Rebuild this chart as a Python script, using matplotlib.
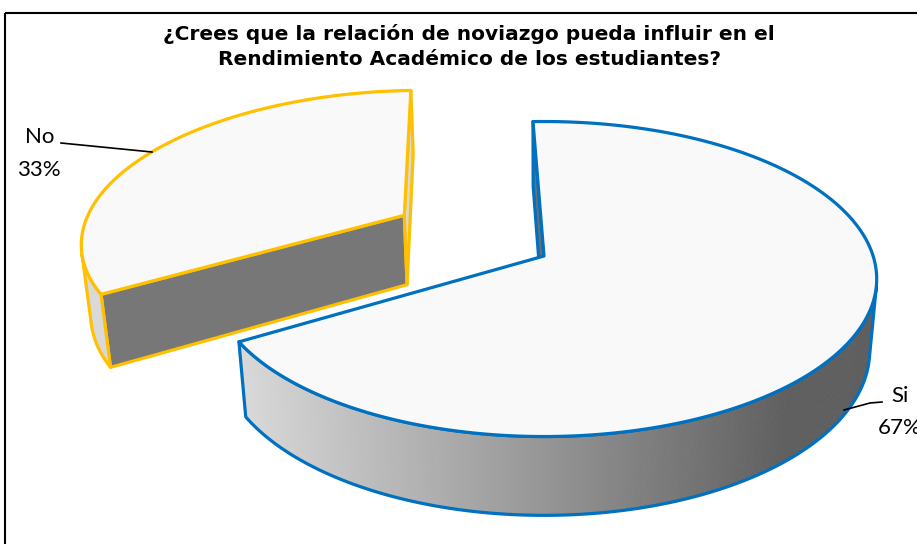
import numpy as np
import matplotlib
matplotlib.use('Agg')
import matplotlib.pyplot as plt
from matplotlib.patches import Polygon, Rectangle

# ---------------- data ----------------
categories = ['Si', 'No']
values = [67, 33]
percent_labels = ['67%', '33%']
title_text = '¿Crees que la relación de noviazgo pueda influir en el\nRendimiento Académico de los estudiantes?'
edge_colors = ['#0070C0', '#FFC000']
explode = [0.0, 0.52]

# ---------------- style / layout ----------------
W, H = 917, 544
TOP_COLOR = '#F9F9F9'
# (face at the slice's counter-clockwise edge, face at its clockwise edge)
CUT_COLORS = [('#6E6E6E', '#6E6E6E'), ('#777777', '#D9D9D9')]
WALL_LIGHT = np.array([0xD9, 0xD9, 0xD9]) / 255
WALL_DARK = np.array([0x5F, 0x5F, 0x5F]) / 255
GRAD_X0, GRAD_X1 = 240, 790
EXPLODE_DIR_SHIFT = -3.5  # degrees

elev = np.radians(30.0)
D = 6.05
F = 1950.0
h = 0.25
cx = 544.0
apex_y = 256.0
start_angle = 92.2
ce, se = np.cos(elev), np.sin(elev)
cy0 = apex_y + F * h * ce / (D - h * se)
cam_xy = np.array([0.0, -D * ce])


def proj(X, Y, Z):
    X = np.asarray(X, float); Y = np.asarray(Y, float); Z = np.asarray(Z, float)
    vy = Y + D * ce
    vz = Z - D * se
    depth = vy * ce - vz * se
    up = vy * se + vz * ce
    return cx + F * X / depth, cy0 - F * up / depth


fig = plt.figure(figsize=(W / 100, H / 100), dpi=100)
ax = fig.add_axes([0, 0, 1, 1])
ax.set_xlim(0, W)
ax.set_ylim(H, 0)
ax.axis('off')

# chart frame (cropped at right/bottom)
ax.add_patch(Rectangle((5, 13), 2000, 2000, fill=False, edgecolor='black', lw=1.5, zorder=1))

LW = 2.3
total = float(sum(values))
slices = []
a0 = start_angle
for i, v in enumerate(values):
    a1 = a0 - 360.0 * v / total
    slices.append((i, a1, a0))
    a0 = a1

# draw back slice (No) first, then Si
order = [1, 0]
for idx in order:
    i, a1, a0 = slices[idx]
    col = edge_colors[i]
    mid = np.radians((a0 + a1) / 2 + EXPLODE_DIR_SHIFT)
    ox, oy = explode[i] * np.cos(mid), explode[i] * np.sin(mid)
    z = 10 + (1 - idx) * 10
    t = np.radians(np.linspace(a1, a0, 400))
    ax_x = ox + np.cos(t)
    ax_y = oy + np.sin(t)

    # cut faces
    for edge_ang, sign, ccol in ((a0, +1, CUT_COLORS[i][0]), (a1, -1, CUT_COLORS[i][1])):
        er = np.radians(edge_ang)
        n = np.array([np.cos(er + sign * np.pi / 2), np.sin(er + sign * np.pi / 2)])
        if np.dot(cam_xy - np.array([ox, oy]), n) > 0:
            px = [ox, ox, ox + np.cos(er), ox + np.cos(er)]
            py = [oy, oy, oy + np.sin(er), oy + np.sin(er)]
            pz = [0, h, h, 0]
            sx, sy = proj(px, py, pz)
            ax.add_patch(Polygon(np.c_[sx, sy], closed=True, facecolor=ccol,
                                 edgecolor=col, lw=LW, joinstyle='round', zorder=z))

    # outer wall
    rel = cam_xy[None, :] - np.c_[ax_x, ax_y]
    vis = (rel[:, 0] * np.cos(t) + rel[:, 1] * np.sin(t)) > 0
    if vis.any():
        ids = np.where(vis)[0]
        tx, ty = ax_x[ids], ax_y[ids]
        txs, tys = proj(tx, ty, np.full(len(ids), h))
        bxs, bys = proj(tx, ty, np.zeros(len(ids)))
        for k in range(len(ids) - 1):
            xm = 0.5 * (txs[k] + txs[k + 1])
            f = np.clip((xm - GRAD_X0) / (GRAD_X1 - GRAD_X0), 0, 1)
            c = WALL_LIGHT * (1 - f) + WALL_DARK * f
            quad = [(txs[k], tys[k]), (txs[k + 1], tys[k + 1]),
                    (bxs[k + 1], bys[k + 1]), (bxs[k], bys[k])]
            ax.add_patch(Polygon(quad, closed=True, facecolor=c, edgecolor=c, lw=0.6, zorder=z))
        outline = np.r_[np.c_[txs, tys], np.c_[bxs, bys][::-1]]
        ax.add_patch(Polygon(outline, closed=True, fill=False, edgecolor=col,
                             lw=LW, joinstyle='round', zorder=z + 1))

    # top face
    sx, sy = proj(np.r_[ox, ax_x], np.r_[oy, ax_y], np.full(len(t) + 1, h))
    ax.add_patch(Polygon(np.c_[sx, sy], closed=True, facecolor=TOP_COLOR,
                         edgecolor=col, lw=LW, joinstyle='round', zorder=z + 2))

# title
ax.text(469, 46.5, title_text, ha='center', va='center', fontsize=14.5, fontweight='bold',
        family='DejaVu Sans', linespacing=1.42, zorder=30)

# data labels with leader lines
label_font = dict(family='Lato', fontsize=16, ha='center', va='center', zorder=30)
ax.text(900, 396, categories[0], **label_font)
ax.text(900, 428, percent_labels[0], **label_font)
ax.plot([882, 870, 844], [402, 403, 410], color='black', lw=1.2, zorder=30)
ax.text(40, 137, categories[1], **label_font)
ax.text(39, 170, percent_labels[1], **label_font)
ax.plot([61, 71, 152], [143, 144, 152], color='black', lw=1.2, zorder=30)

fig.savefig('out.png', dpi=100)
